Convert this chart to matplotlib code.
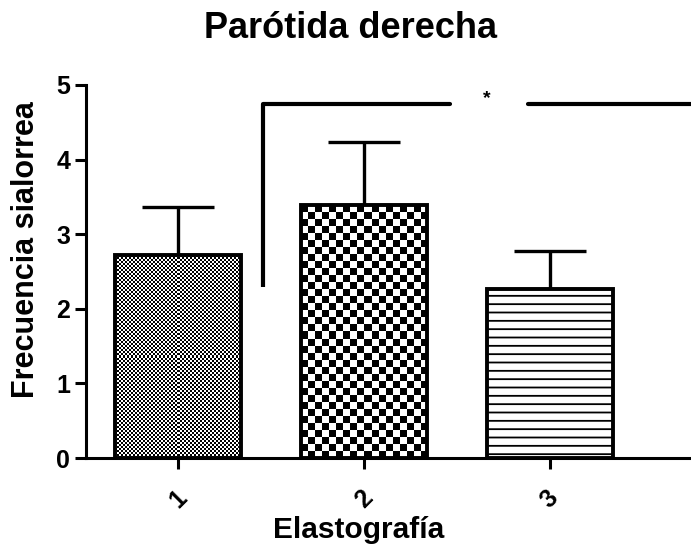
import numpy as np
import matplotlib.pyplot as plt

plt.rcParams['font.family'] = ['Liberation Sans', 'DejaVu Sans']
plt.rcParams['font.weight'] = 'bold'
plt.rcParams['hatch.linewidth'] = 1.3

# datos
categorias = ['1', '2', '3']
medias = [2.72, 3.39, 2.27]
error_sup = [0.64, 0.85, 0.50]
titulo = 'Parótida derecha'
etiqueta_y = 'Frecuencia sialorrea'
etiqueta_x = 'Elastografía'

fig = plt.figure(figsize=(6.91, 5.45), dpi=100)
ax = fig.add_axes([86 / 691, 1 - 458 / 545, 1 - 86 / 691, (458 - 85) / 545])

x = np.arange(len(categorias))
ax.set_xlim(-0.495, 2.76)
ax.set_ylim(0, 5)

ancho = 0.68
barras = ax.bar(x, medias, width=ancho, color='white', edgecolor='none',
                zorder=2)

# rellenos tipo Prism: tablero fino, tablero grueso, rayas horizontales
def tablero(barra, paso_px):
    x0, y0 = barra.get_x(), barra.get_y()
    w, h = barra.get_width(), barra.get_height()
    p0 = ax.transData.transform((x0, y0))
    p1 = ax.transData.transform((x0 + w, y0 + h))
    nx = max(int(round((p1[0] - p0[0]) / paso_px)), 1)
    ny = max(int(round((p1[1] - p0[1]) / paso_px)), 1)
    ii, jj = np.indices((ny, nx))
    img = ((ii + jj) % 2).astype(float)
    im = ax.imshow(img, cmap='gray', extent=(x0, x0 + w, y0, y0 + h),
                   interpolation='nearest', aspect='auto', zorder=3)
    im.set_clip_path(barra)

tablero(barras[0], 2)
tablero(barras[1], 7)
ax.bar(x[2], medias[2], width=ancho, color='white', edgecolor='black',
       hatch='--', linewidth=0, zorder=3)

# contornos de las barras
ax.bar(x, medias, width=ancho, fill=False, edgecolor='black',
       linewidth=2.8, zorder=4)

ax.errorbar(x, medias, yerr=[[0] * 3, error_sup], fmt='none', ecolor='black',
            elinewidth=2.4, capsize=26, capthick=2.4, zorder=1)

# corchete de significación
lw = 3
ax.plot([0.457, 0.457], [2.29, 4.75], color='black', lw=lw, clip_on=False,
        solid_capstyle='butt')
ax.plot([0.457, 1.462], [4.75, 4.75], color='black', lw=lw, clip_on=False,
        solid_capstyle='round')
ax.plot([1.882, 2.76], [4.75, 4.75], color='black', lw=lw, clip_on=False,
        solid_capstyle='round')
ax.text(1.66, 4.82, '*', ha='center', va='center', fontsize=14,
        fontweight='bold')

ax.spines['top'].set_visible(False)
ax.spines['right'].set_visible(False)
for s in ['left', 'bottom']:
    ax.spines[s].set_linewidth(2.2)

ax.set_xticks(x)
ax.set_xticklabels(categorias, rotation=45, fontsize=18, fontweight='bold')
ax.set_yticks(range(0, 6))
ax.tick_params(axis='both', width=2.2, length=8, labelsize=18)
ax.tick_params(axis='x', pad=12)
for t in ax.get_yticklabels():
    t.set_fontweight('bold')

ax.set_ylabel(etiqueta_y, fontsize=22, fontweight='bold')
ax.yaxis.set_label_coords(-0.074, 0.558)
ax.set_xlabel(etiqueta_x, fontsize=21.5, fontweight='bold')
ax.xaxis.set_label_coords(0.451, -0.155)
fig.text(350 / 691, 1 - 29 / 545, titulo, ha='center', va='center',
         fontsize=26, fontweight='bold')

fig.savefig('out.png', dpi=100)
